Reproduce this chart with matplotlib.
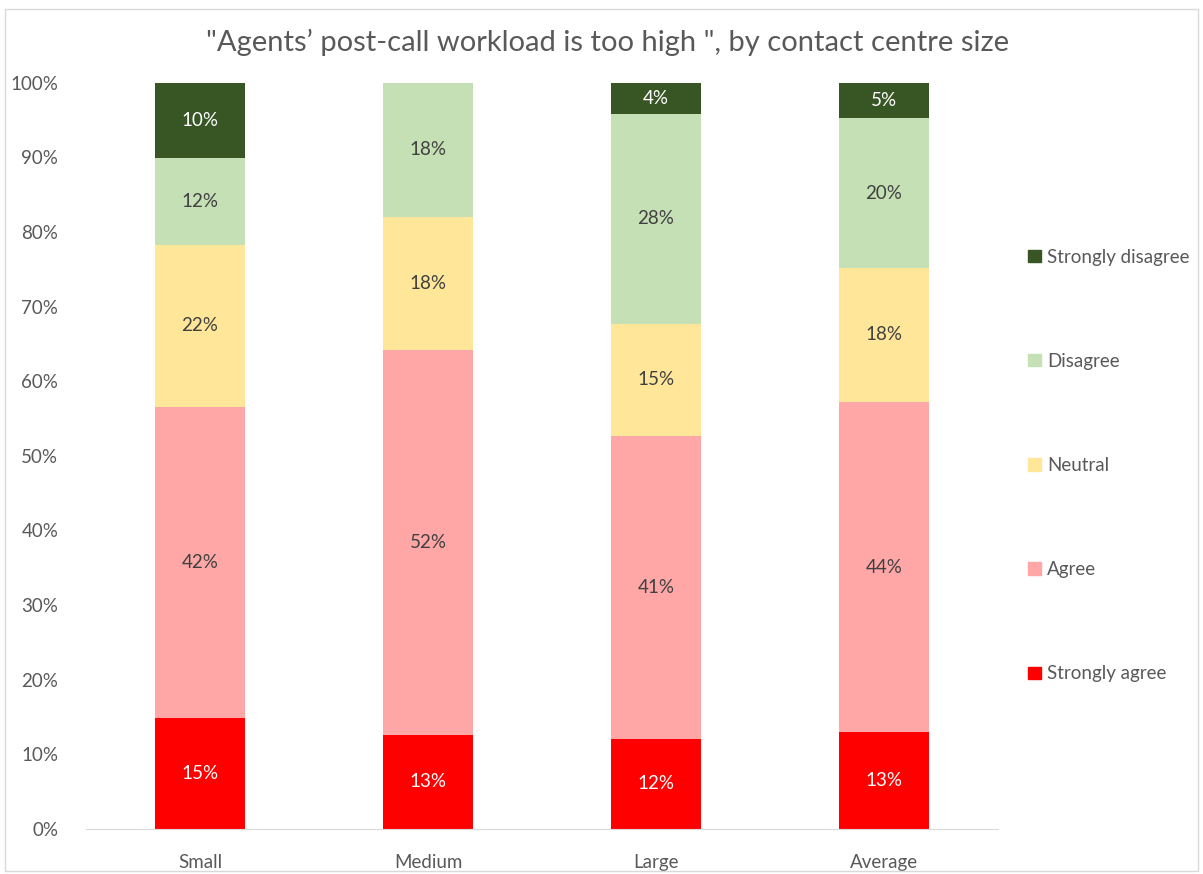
import matplotlib.pyplot as plt
import numpy as np
from matplotlib.patches import Patch, Rectangle

plt.rcParams['font.family'] = ['Lato', 'DejaVu Sans']

sizes = ['Small', 'Medium', 'Large', 'Average']
levels = ['Strongly agree', 'Agree', 'Neutral', 'Disagree', 'Strongly disagree']

# share of respondents per answer, bottom to top
strongly_agree = [14.9, 12.6, 12.1, 13.0]
agree = [41.7, 51.6, 40.6, 44.2]
neutral = [21.7, 17.8, 15.0, 18.0]
disagree = [11.6, 18.0, 28.1, 20.0]
strongly_disagree = [10.1, 0.0, 4.2, 4.8]

colors = ['#FF0000', '#FFA7A7', '#FFE699', '#C5E0B4', '#375623']
text_colors = ['white', '#404040', '#404040', '#404040', 'white']

series = [strongly_agree, agree, neutral, disagree, strongly_disagree]

fig = plt.figure(figsize=(12.03, 8.74), dpi=100)
ax = fig.add_axes([0.0715, 0.0515, 0.758, 0.854])

x = np.arange(len(sizes))
bottom = np.zeros(len(sizes))
for vals, name, col, tcol in zip(series, levels, colors, text_colors):
    vals = np.array(vals)
    ax.bar(x, vals, 0.395, bottom=bottom, color=col, label=name)
    for xi, b, v in zip(x, bottom, vals):
        if v > 0:
            ax.text(xi, b + v / 2, f'{v:.0f}%', ha='center', va='center',
                    fontsize=13.5, color=tcol)
    bottom += vals

ax.set_xlim(-0.5, len(sizes) - 0.5)
ax.set_ylim(0, 100)
ax.set_yticks(np.arange(0, 101, 10))
ax.set_yticklabels([f'{v}%' for v in range(0, 101, 10)])
ax.set_xticks(x)
ax.set_xticklabels(sizes)
ax.tick_params(length=0, labelsize=13.5, labelcolor='#595959')
ax.tick_params(axis='x', pad=18)
ax.tick_params(axis='y', pad=20)
for s in ['top', 'right', 'left']:
    ax.spines[s].set_visible(False)
ax.spines['bottom'].set_color('#D9D9D9')

fig.text(0.505, 0.952,
         '"Agents\u2019 post-call workload is too high ", by contact centre size',
         fontsize=21, color='#595959', ha='center', va='center')

handles = [Patch(color=c, label=l) for c, l in zip(colors, levels)][::-1]
ax.legend(handles=handles, loc='center left', bbox_to_anchor=(1.015, 0.487),
          frameon=False, fontsize=13.5, labelcolor='#595959', labelspacing=4.65,
          handlelength=0.65, handleheight=0.65, handletextpad=0.35)

fig.patches.append(Rectangle((0.004, 0.004), 0.992, 0.986, transform=fig.transFigure,
                             fill=False, edgecolor='#D9D9D9', linewidth=1))

fig.savefig('out.png', dpi=100)
